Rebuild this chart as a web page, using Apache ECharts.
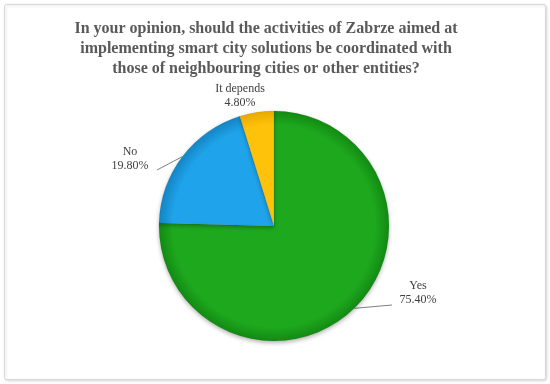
<!DOCTYPE html>
<html><head><meta charset="utf-8">
<script src="https://cdn.jsdelivr.net/npm/echarts@6/dist/echarts.min.js"></script>
<style>html,body{margin:0;padding:0;background:#fff}#c{width:550px;height:384px}</style>
</head><body><div id="c"></div>
<script>
const categories = ['Yes', 'No', 'It depends'];
const values = [75.40, 19.80, 4.80];
const colors = [['#1ea81e', '#128a12'], ['#1fa3ea', '#1485c4'], ['#ffc20a', '#e8aa00']];
const titleText = 'In your opinion, should the activities of Zabrze aimed at\nimplementing smart city solutions be coordinated with\nthose of neighbouring cities or other entities?';

const CX = 274, CY = 226, R = 115;
const total = values.reduce((a, b) => a + b, 0);
// mid angles (clockwise from top)
let acc = 0;
const mids = values.map(v => { const m = (acc + v / 2) / total * 2 * Math.PI; acc += v; return m; });
const edgePt = (i, k) => [CX + Math.sin(mids[i]) * R * k, CY - Math.cos(mids[i]) * R * k];
const labelPos = [[418, 293, [392, 305]], [130, 159, [157, 170]], [240, 96, null]];

const chart = echarts.init(document.getElementById('c'), null, {renderer: 'canvas'});
const data = categories.map((c, i) => ({
  name: c, value: values[i],
  itemStyle: {
    color: {type: 'radial', x: CX, y: CY, r: R, global: true, colorStops: [
      {offset: 0, color: colors[i][0]}, {offset: 0.88, color: colors[i][0]}, {offset: 1, color: colors[i][1]}]}
  }
}));
chart.setOption({
  animation: false,
  graphic: [{
    type: 'rect', shape: {x: 4.5, y: 4.5, width: 541, height: 375, r: 2},
    style: {fill: '#fff', stroke: '#d9d9d9', lineWidth: 1, shadowBlur: 3, shadowColor: 'rgba(0,0,0,0.15)', shadowOffsetX: 1, shadowOffsetY: 1},
    z: -10
  }],
  title: {
    text: titleText, left: 261, top: 14, textAlign: 'center',
    textStyle: {fontFamily: 'Liberation Serif', fontWeight: 'bold', fontSize: 16, color: '#595959', lineHeight: 20}
  },
  series: [{
    type: 'pie', center: [CX, CY], radius: R, startAngle: 90, clockwise: true,
    data: data,
    itemStyle: {borderColor: 'rgba(0,0,0,0.12)', borderWidth: 0.5, shadowBlur: 4, shadowColor: 'rgba(0,0,0,0.3)', shadowOffsetY: 2},
    label: {
      show: true, fontFamily: 'Liberation Serif', fontSize: 12, color: '#404040', lineHeight: 14,
      align: 'center',
      formatter: p => p.name + '\n' + p.value.toFixed(2) + '%'
    },
    labelLine: {show: true, length: 10, length2: 20, lineStyle: {color: '#808080', width: 1}},
    labelLayout: function (p) {
      const L = labelPos[p.dataIndex];
      const out = {x: L[0], y: L[1], align: 'center', verticalAlign: 'middle'};
      if (L[2]) out.labelLinePoints = [edgePt(p.dataIndex, 1.0), L[2], L[2]];
      else out.labelLinePoints = [edgePt(p.dataIndex, 1.0), edgePt(p.dataIndex, 1.0), edgePt(p.dataIndex, 1.0)];
      return out;
    }
  }]
});
</script></body></html>
